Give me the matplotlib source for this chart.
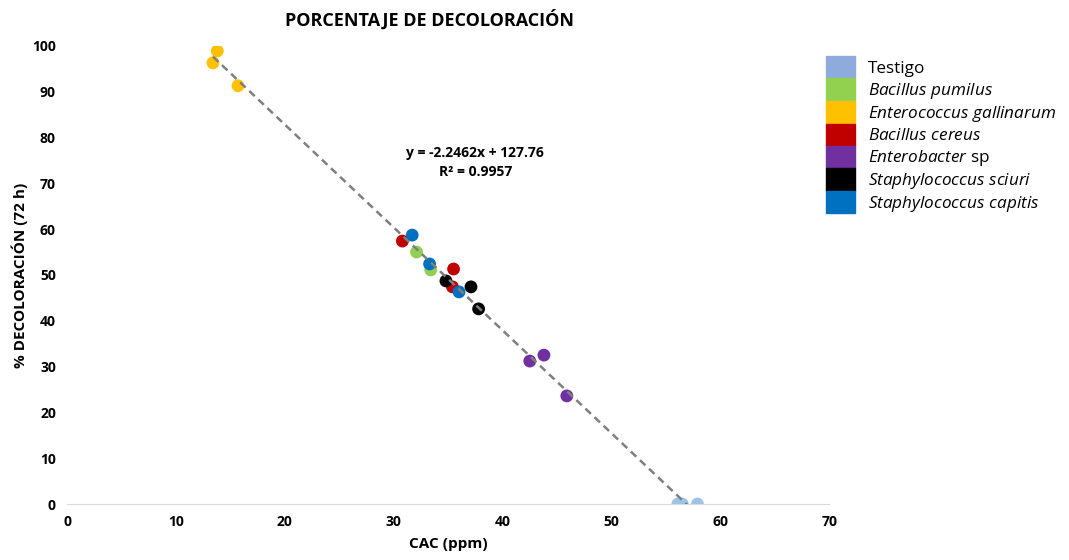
import matplotlib.pyplot as plt
import matplotlib.patches as mpatches
import numpy as np

plt.rcParams['font.family'] = ['Open Sans', 'DejaVu Sans']
plt.rcParams['mathtext.fontset'] = 'custom'
plt.rcParams['mathtext.it'] = 'Open Sans:italic'
plt.rcParams['mathtext.rm'] = 'Open Sans'

# data: CAC (ppm) vs % decoloracion
groups = ['Testigo', 'Bacillus pumilus', 'Enterococcus gallinarum', 'Bacillus cereus',
          'Enterobacter sp', 'Staphylococcus sciuri', 'Staphylococcus capitis']
legend_labels = ['Testigo', r'$\it{Bacillus\ pumilus}$', r'$\it{Enterococcus\ gallinarum}$',
                 r'$\it{Bacillus\ cereus}$', r'$\it{Enterobacter}$ sp',
                 r'$\it{Staphylococcus\ sciuri}$', r'$\it{Staphylococcus\ capitis}$']
legend_colors = ['#8FAADC', '#92D050', '#FFC000', '#C00000', '#7030A0', '#000000', '#0070C0']
point_colors = ['#9DC3E6', '#92D050', '#FFC000', '#C00000', '#7030A0', '#000000', '#0070C0']

cac = {
    'Testigo': [56.1, 56.5, 57.9],
    'Bacillus pumilus': [32.1, 33.4],
    'Enterococcus gallinarum': [13.8, 13.4, 15.7],
    'Bacillus cereus': [30.8, 35.5, 35.4],
    'Enterobacter sp': [42.5, 43.8, 45.9],
    'Staphylococcus sciuri': [34.8, 37.1, 37.8],
    'Staphylococcus capitis': [31.7, 33.3, 36.0],
}
decol = {
    'Testigo': [0.0, 0.0, 0.0],
    'Bacillus pumilus': [55.0, 51.1],
    'Enterococcus gallinarum': [98.9, 96.3, 91.3],
    'Bacillus cereus': [57.4, 51.3, 47.4],
    'Enterobacter sp': [31.2, 32.5, 23.6],
    'Staphylococcus sciuri': [48.7, 47.4, 42.6],
    'Staphylococcus capitis': [58.7, 52.4, 46.3],
}

slope = -2.2462
intercept = 127.76
r2 = 0.9957

fig = plt.figure(figsize=[10.69, 5.6], dpi=100)
ax = fig.add_axes([0.0627, 0.1, 0.713, 0.818])

all_x = np.concatenate([cac[g] for g in groups])
xl = np.linspace(all_x.min(), all_x.max(), 50)
ax.plot(xl, slope * xl + intercept, linestyle=(0, (3, 2)), color='#7F7F7F', lw=1.8, zorder=3)

for g, c in zip(groups, point_colors):
    ax.scatter(cac[g], decol[g], s=85, color=c, edgecolors='none', zorder=2)

ax.set_xlim(0, 70)
ax.set_ylim(0, 100)
ax.set_xticks(np.arange(0, 71, 10))
ax.set_yticks(np.arange(0, 101, 10))
for s in ['top', 'right', 'left']:
    ax.spines[s].set_visible(False)
ax.spines['bottom'].set_color('#D9D9D9')
ax.tick_params(length=0, labelsize=10, pad=8)
for lab in ax.get_xticklabels() + ax.get_yticklabels():
    lab.set_fontweight('bold')

ax.set_xlabel('CAC (ppm)', fontsize=11, fontweight='bold', labelpad=6)
ax.set_ylabel('% DECOLORACIÓN (72 h)', fontsize=11, fontweight='bold', labelpad=3)
fig.text(0.402, 0.965, 'PORCENTAJE DE DECOLORACIÓN', ha='center', va='center',
         fontsize=13, fontweight='bold')

ax.text(37.5, 76.6, 'y = -2.2462x + 127.76', ha='center', va='center', fontsize=10, fontweight='bold')
ax.text(37.5, 72.4, 'R² = %.4f' % r2, ha='center', va='center', fontsize=10, fontweight='bold')

handles = [mpatches.Patch(color=c) for c in legend_colors]
leg = fig.legend(handles, legend_labels, loc='upper left', bbox_to_anchor=(0.7665, 0.912),
                 frameon=False, fontsize=12.3, handlelength=1.7, handleheight=1.62,
                 labelspacing=0.0, handletextpad=0.75, borderaxespad=0)

fig.savefig('out.png', dpi=100)
